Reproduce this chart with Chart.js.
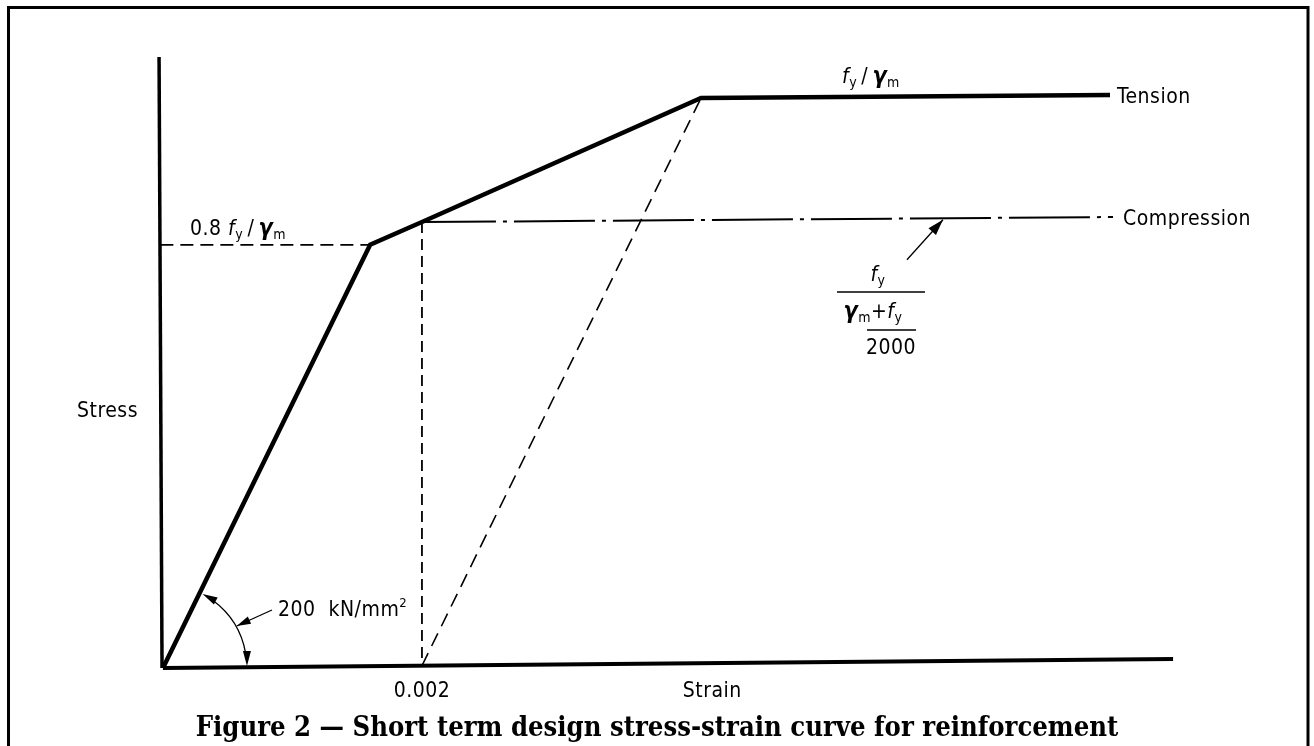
<!DOCTYPE html>
<html><head><meta charset="utf-8">
<script src="https://cdn.jsdelivr.net/npm/chart.js@4.4.1/dist/chart.umd.min.js"></script>
<style>html,body{margin:0;padding:0;background:#fff;}canvas{display:block;}</style>
</head><body>
<canvas id="c" width="1314" height="746"></canvas>
<script>
// ---- values (strain, stress on the drawing's own schematic scale) ----
const curveStrain = [0, 0.0016, 0.002, 0.004155, 0.007313];
const curveStress = [0, 320, 337.2, 431.0, 433.3];
const compressionStrain = [0.002, 0.007336];
const compressionStress = [337.2, 341.0];
const yieldGuideStrain = [-0.00002, 0.0016];
const yieldGuideStress = [320, 320];
const strainGuideStrain = [0.002, 0.002];
const strainGuideStress = [337.2, 1.7];
const unloadStrain = [0.002, 0.004155];
const unloadStress = [1.7, 431.0];
const xAxisStrain = [0, 0.0078];
const xAxisStress = [0, 6.8];
const yAxisStrain = [-0.000007, -0.00003];
const yAxisStress = [0, 462];
const xRange = [-0.0001, 0.00773];
const yRange = [0, 462];
const tickStrain = 0.002;
const tickLabel = '0.002';
const strainTitleAt = 0.004242;
const arrowTipStrain = 0.006023;
const captionText = 'Figure 2 — Short term design stress-strain curve for reinforcement';

const pts = (xs, ys) => xs.map((x, i) => ({x, y: ys[i]}));

const SANS = '"DejaVu Sans Condensed", "DejaVu Sans", sans-serif';
const SERIF = '"DejaVu Serif Condensed", "DejaVu Serif", serif';

// caption sizing
const mctx = document.createElement('canvas').getContext('2d');
mctx.font = 'bold 20px ' + SERIF;
const capSize = 20 * 923 / mctx.measureText(captionText).width;
const capLH = 1.2;
const capPadTop = 61 - capSize * capLH / 2;
const layoutBottom = Math.max(0, 78 - (capSize * capLH + capPadTop));

function fontFor(kind) {
  switch (kind) {
    case 'i': return 'italic 21px ' + SANS;
    case 'bi': return 'italic bold 23px ' + SANS;
    case 'sub': return '14px ' + SANS;
    case 'sup': return '13px ' + SANS;
    default: return '21px ' + SANS;
  }
}
function rich(ctx, segs, x, midY, align) {
  ctx.letterSpacing = '0.5px';
  let w = 0;
  for (const s of segs) { ctx.font = fontFor(s[1]); w += ctx.measureText(s[0]).width; }
  let cx = align === 'center' ? x - w / 2 : (align === 'right' ? x - w : x);
  const base = midY + 8;
  ctx.textAlign = 'left';
  ctx.textBaseline = 'alphabetic';
  for (const s of segs) {
    ctx.font = fontFor(s[1]);
    const dy = s[1] === 'sub' ? 4 : (s[1] === 'sup' ? -9 : 0);
    ctx.fillText(s[0], cx, base + dy);
    cx += ctx.measureText(s[0]).width;
  }
  return w;
}
function head(ctx, tx, ty, ang, len, hw) {
  ctx.beginPath();
  ctx.moveTo(tx, ty);
  ctx.lineTo(tx - len * Math.cos(ang) - hw * Math.sin(ang), ty - len * Math.sin(ang) + hw * Math.cos(ang));
  ctx.lineTo(tx - len * Math.cos(ang) + hw * Math.sin(ang), ty - len * Math.sin(ang) - hw * Math.cos(ang));
  ctx.closePath();
  ctx.fill();
}

const figPlugin = {
  id: 'fig',
  beforeDraw(chart) {
    const ctx = chart.ctx;
    ctx.save();
    ctx.fillStyle = '#fff';
    ctx.fillRect(0, 0, chart.width, chart.height);
    ctx.strokeStyle = '#000';
    ctx.lineWidth = 3;
    ctx.strokeRect(8.5, 7.5, 1299.5, 780);
    ctx.restore();
  },
  afterDatasetsDraw(chart) {
    const ctx = chart.ctx, xs = chart.scales.x, ys = chart.scales.y;
    const X = v => xs.getPixelForValue(v), Y = v => ys.getPixelForValue(v);
    ctx.save();
    ctx.fillStyle = '#000';
    ctx.strokeStyle = '#000';

    // modulus arc with arrowheads
    const ox = X(0), oy = Y(0);
    const a = Math.atan2(Y(curveStress[1]) - oy, X(curveStrain[1]) - ox);
    const r = 84, hl = 15;
    ctx.lineWidth = 1.3;
    ctx.beginPath();
    ctx.arc(ox, oy, r, a + hl / r, -hl / r, false);
    ctx.stroke();
    head(ctx, ox + r, oy - 2, Math.PI / 2, hl, 4);
    const a2 = a + 3 / r;
    head(ctx, ox + r * Math.cos(a2), oy + r * Math.sin(a2), Math.atan2(-Math.cos(a2), Math.sin(a2)), hl, 4);
    // leader to arc
    const am = -Math.PI / 6;
    const lx0 = ox + 109, ly0 = oy - 58;
    const lx1 = ox + r * Math.cos(am) + 1, ly1 = oy + r * Math.sin(am);
    ctx.beginPath(); ctx.moveTo(lx0, ly0); ctx.lineTo(lx1, ly1); ctx.stroke();
    head(ctx, lx1, ly1, Math.atan2(ly1 - ly0, lx1 - lx0), 14, 4);

    // compression arrow
    const t = (arrowTipStrain - compressionStrain[0]) / (compressionStrain[1] - compressionStrain[0]);
    const tipX = X(arrowTipStrain);
    const tipY = Y(compressionStress[0] + t * (compressionStress[1] - compressionStress[0])) + 1.5;
    const tailX = tipX - 36, tailY = tipY + 40;
    ctx.lineWidth = 1.3;
    ctx.beginPath(); ctx.moveTo(tailX, tailY); ctx.lineTo(tipX, tipY); ctx.stroke();
    head(ctx, tipX, tipY, Math.atan2(tipY - tailY, tipX - tailX), 16, 5);

    // labels
    const TS = '\u2009';
    rich(ctx, [['Stress', 'n']], 77, 409, 'left');
    rich(ctx, [[tickLabel, 'n']], X(tickStrain), oy + 21, 'center');
    rich(ctx, [['Strain', 'n']], X(strainTitleAt), oy + 21, 'center');
    const tEndX = X(curveStrain[4]), tEndY = Y(curveStress[4]);
    rich(ctx, [['Tension', 'n']], tEndX + 7, tEndY, 'left');
    const cEndX = X(compressionStrain[1]), cEndY = Y(compressionStress[1]);
    rich(ctx, [['Compression', 'n']], cEndX + 10, cEndY, 'left');
    rich(ctx, [['0.8 ', 'n'], ['f', 'i'], ['y', 'sub'], [TS + '/' + TS, 'n'], ['γ', 'bi'], ['m', 'sub']], 190, Y(yieldGuideStress[0]) - 18, 'left');
    rich(ctx, [['f', 'i'], ['y', 'sub'], [TS + '/' + TS, 'n'], ['γ', 'bi'], ['m', 'sub']], 842, Y(curveStress[3]) - 23, 'left');
    rich(ctx, [['200  kN/mm', 'n'], ['2', 'sup']], 278, 608, 'left');

    // fraction
    rich(ctx, [['f', 'i'], ['y', 'sub']], 878, 273, 'center');
    ctx.lineWidth = 1.6;
    ctx.beginPath(); ctx.moveTo(837, 292); ctx.lineTo(925, 292); ctx.stroke();
    rich(ctx, [['γ', 'bi'], ['m', 'sub'], ['+', 'n'], ['f', 'i'], ['y', 'sub']], 873, 310, 'center');
    ctx.beginPath(); ctx.moveTo(867, 330); ctx.lineTo(916, 330); ctx.stroke();
    rich(ctx, [['2000', 'n']], 891, 346, 'center');
    ctx.restore();
  }
};

const line = (data, w, dash, extra) => Object.assign({
  data, showLine: true, borderColor: '#000', backgroundColor: '#000',
  borderWidth: w, borderDash: dash || [], pointRadius: 0, clip: false,
  tension: 0, borderJoinStyle: 'miter', borderCapStyle: 'butt'
}, extra || {});

new Chart(document.getElementById('c'), {
  type: 'scatter',
  data: {
    datasets: [
      line(pts(curveStrain, curveStress), 4.5),
      line(pts(xAxisStrain, xAxisStress), 4),
      line(pts(yAxisStrain, yAxisStress), 3.5),
      line(pts(compressionStrain, compressionStress), 2, [81, 7, 4, 7], {borderDashOffset: 7}),
      line(pts(yieldGuideStrain, yieldGuideStress), 1.8, [13, 7]),
      line(pts(strainGuideStrain, strainGuideStress), 1.8, [11, 6]),
      line(pts(unloadStrain, unloadStress), 1.6, [14, 8])
    ]
  },
  options: {
    responsive: false,
    animation: false,
    events: [],
    layout: { padding: { left: 150, right: 150, top: 57, bottom: layoutBottom } },
    scales: {
      x: { type: 'linear', display: false, min: xRange[0], max: xRange[1] },
      y: { type: 'linear', display: false, min: yRange[0], max: yRange[1] }
    },
    plugins: {
      legend: { display: false },
      tooltip: { enabled: false },
      title: {
        display: true, position: 'bottom', text: captionText, color: '#000',
        font: { family: SERIF, weight: 'bold', size: capSize, lineHeight: capLH },
        padding: { top: capPadTop, bottom: 0 }
      }
    }
  },
  plugins: [figPlugin]
});
</script>
</body></html>
